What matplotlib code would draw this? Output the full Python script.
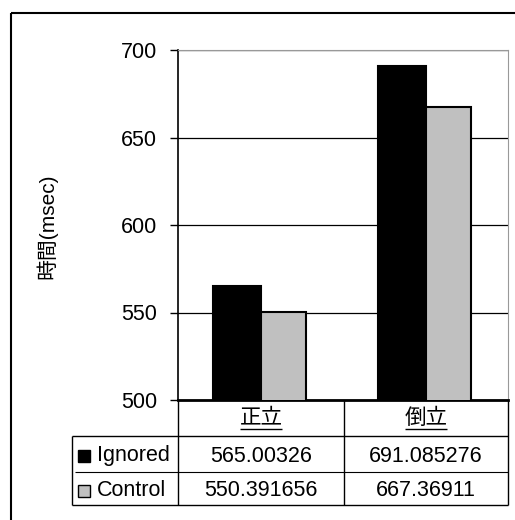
import matplotlib
matplotlib.use("Agg")
import matplotlib.pyplot as plt
import numpy as np
from matplotlib.patches import Rectangle

plt.rcParams['font.family'] = ['Liberation Sans', 'Noto Sans CJK JP', 'DejaVu Sans']

# データ
categories = ['正立', '倒立']
series_names = ['Ignored', 'Control']
ignored = [565.00326, 691.085276]
control = [550.391656, 667.36911]
ignored_text = ['565.00326', '691.085276']
control_text = ['550.391656', '667.36911']
yticks = [500, 550, 600, 650, 700]

W, H = 515, 520
fig = plt.figure(figsize=(W / 100, H / 100), dpi=100)

# プロット領域 (ピクセル座標)
L, R, T, B = 178, 508, 50, 400
ax = fig.add_axes([L / W, 1 - B / H, (R - L) / W, (B - T) / H])
x = np.arange(len(categories))
bw = 0.29
ax.bar(x, ignored, width=-bw, align='edge', color='black', edgecolor='black', linewidth=1.5, zorder=3)
ax.bar(x, control, width=bw * 0.95, align='edge', color='#C0C0C0', edgecolor='black', linewidth=1.5, zorder=3)
ax.set_xlim(-0.5, 1.5)
ax.set_ylim(500, 700)
ax.set_yticks(yticks)
ax.set_yticklabels([str(v) for v in yticks], fontsize=15.5)
ax.set_xticks([])
ax.yaxis.grid(True, color='black', linewidth=0.9, zorder=0)
ax.set_axisbelow(True)
ax.tick_params(axis='y', length=6, width=1, pad=9)
ax.spines['left'].set_linewidth(1.2)
ax.spines['bottom'].set_linewidth(2)
ax.spines['top'].set_color('#999999')
ax.spines['right'].set_color('#999999')

# 表とフレーム (重ね合わせ軸、ピクセル座標)
ov = fig.add_axes([0, 0, 1, 1], facecolor='none')
ov.set_xlim(0, W)
ov.set_ylim(H, 0)
ov.axis('off')

ov.text(47, 226, '時間(msec)', rotation=90, ha='center', va='center', fontsize=15)

def line(x0, y0, x1, y1, lw=1.0, c='black'):
    ov.plot([x0, x1], [y0, y1], color=c, linewidth=lw, solid_capstyle='butt')

# 外枠
line(11, 13, 11, H, 1.5)
line(11, 13, W, 13, 1.5)

# 表の罫線
line(L, B, L, 505)
line(344, B, 344, 505)
line(R, B, R, 505)
line(72, 436, R, 436)
line(75, 472, R, 472, 0.8)
line(72, 505, R, 505)
line(72, 436, 72, 505)

cx = [261, 426]
for i, c in enumerate(categories):
    ov.text(cx[i], 418, c, ha='center', va='center', fontsize=15.5)
    line(cx[i] - 21, 429, cx[i] + 21, 429, 1.0)

rows_y = [456, 491]
colors = ['black', '#C0C0C0']
texts = [ignored_text, control_text]
for r, name in enumerate(series_names):
    y = rows_y[r]
    ov.add_patch(Rectangle((78, y - 6), 12, 12, facecolor=colors[r], edgecolor='black', linewidth=1))
    ov.text(97, y, name, ha='left', va='center', fontsize=15.5)
    for i in range(len(categories)):
        ov.text(cx[i], y, texts[r][i], ha='center', va='center', fontsize=15.5)

fig.savefig('out.png', dpi=100)
